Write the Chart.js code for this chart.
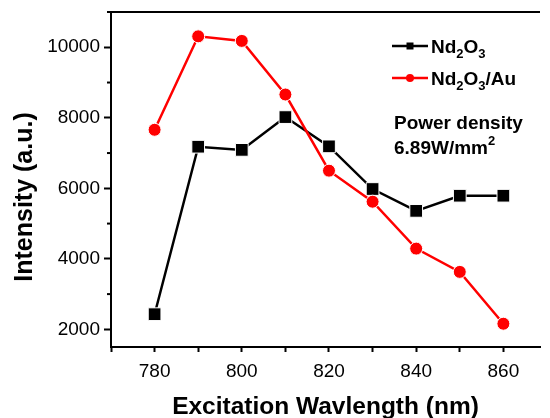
<!DOCTYPE html>
<html>
<head>
<meta charset="utf-8">
<script src="https://cdn.jsdelivr.net/npm/chart.js@4/dist/chart.umd.min.js"></script>
<style>
  html, body { margin: 0; padding: 0; background: #fff; overflow: hidden; }
  #wrap { position: relative; width: 550px; height: 418px; }
</style>
</head>
<body>
<div id="wrap"><canvas id="chart"></canvas></div>
<script>
// excitation wavelength (nm) and intensity readings (a.u.)
const wavelengths = [780, 790, 800, 810, 820, 830, 840, 850, 860];
const nd2o3 = [2430, 7180, 7090, 8020, 7190, 5980, 5360, 5790, 5790];
const nd2o3Au = [7660, 10310, 10180, 8660, 6500, 5620, 4290, 3630, 2160];

// tick positions; only the ones in the *Labels lists get a label
const xTickLabels = [780, 800, 820, 840, 860];
const yTickValues = [2000, 3000, 4000, 5000, 6000, 7000, 8000, 9000, 10000, 11000];
const yTickLabels = [2000, 4000, 6000, 8000, 10000];

const FONT = "'Liberation Sans', Arial, sans-serif";

// draws text with sub/superscript parts, e.g. Nd2O3
function drawRich(ctx, parts, x, y, size) {
  parts.forEach(p => {
    const small = p.sub || p.sup;
    ctx.font = 'bold ' + (small ? Math.round(size * 0.68) : size) + 'px ' + FONT;
    const dy = p.sub ? size * 0.3 : (p.sup ? -size * 0.45 : 0);
    ctx.fillText(p.t, x, y + dy);
    x += ctx.measureText(p.t).width;
  });
}

const extrasPlugin = {
  id: 'extras',
  afterDraw(chart) {
    const ctx = chart.ctx;
    const area = chart.chartArea;
    const yScale = chart.scales.y;
    ctx.save();
    ctx.strokeStyle = '#000';
    ctx.fillStyle = '#000';

    // top frame line
    ctx.lineWidth = 2;
    ctx.beginPath();
    ctx.moveTo(area.left - 1, area.top);
    ctx.lineTo(area.right, area.top);
    ctx.stroke();

    // short minor ticks on the y axis
    ctx.lineWidth = 2;
    yScale.ticks.forEach(t => {
      if (yTickLabels.includes(t.value)) return;
      const py = yScale.getPixelForValue(t.value);
      ctx.beginPath();
      ctx.moveTo(area.left - 4, py);
      ctx.lineTo(area.left, py);
      ctx.stroke();
    });

    // y axis title (sits a bit below the axis centre in the original)
    ctx.save();
    ctx.translate(25, 197);
    ctx.rotate(-Math.PI / 2);
    ctx.font = 'bold 25px ' + FONT;
    ctx.textAlign = 'center';
    ctx.textBaseline = 'middle';
    ctx.fillText('Intensity (a.u.)', 0, 0);
    ctx.restore();

    // legend
    const lx = 392, lw = 36;
    const rows = [
      { color: '#000', y: 46, square: true, text: [{t: 'Nd'}, {t: '2', sub: true}, {t: 'O'}, {t: '3', sub: true}] },
      { color: '#ff0000', y: 78, square: false, text: [{t: 'Nd'}, {t: '2', sub: true}, {t: 'O'}, {t: '3', sub: true}, {t: '/Au'}] }
    ];
    rows.forEach(r => {
      ctx.strokeStyle = r.color;
      ctx.fillStyle = r.color;
      ctx.lineWidth = 2.5;
      ctx.beginPath();
      ctx.moveTo(lx, r.y);
      ctx.lineTo(lx + lw, r.y);
      ctx.stroke();
      ctx.beginPath();
      if (r.square) {
        ctx.rect(lx + lw / 2 - 3.5, r.y - 3.5, 7, 7);
      } else {
        ctx.arc(lx + lw / 2, r.y, 4, 0, Math.PI * 2);
      }
      ctx.fill();
      ctx.fillStyle = '#000';
      ctx.textBaseline = 'alphabetic';
      drawRich(ctx, r.text, 431, r.y + 6.5, 19);
    });

    // power density note
    ctx.fillStyle = '#000';
    drawRich(ctx, [{t: 'Power density'}], 394, 128.5, 19);
    drawRich(ctx, [{t: '6.89W/mm'}, {t: '2', sup: true}], 394, 153.5, 19);

    ctx.restore();
  }
};

new Chart(document.getElementById('chart'), {
  type: 'line',
  data: {
    datasets: [
      {
        label: 'Nd2O3',
        data: wavelengths.map((w, i) => ({ x: w, y: nd2o3[i] })),
        borderColor: '#000',
        backgroundColor: '#000',
        borderWidth: 2.5,
        pointStyle: 'rect',
        pointRadius: 9,
        pointBorderColor: '#fff',
        pointBorderWidth: 1,
        tension: 0,
        order: 1
      },
      {
        label: 'Nd2O3/Au',
        data: wavelengths.map((w, i) => ({ x: w, y: nd2o3Au[i] })),
        borderColor: '#ff0000',
        backgroundColor: '#ff0000',
        borderWidth: 2.5,
        pointStyle: 'circle',
        pointRadius: 6.5,
        pointBorderColor: '#fff',
        pointBorderWidth: 1,
        tension: 0,
        order: 0
      }
    ]
  },
  options: {
    responsive: true,
    maintainAspectRatio: false,
    animation: false,
    layout: { padding: { top: 12, right: 0, bottom: 0, left: 0 } },
    plugins: {
      legend: { display: false },
      tooltip: { enabled: false }
    },
    scales: {
      x: {
        type: 'linear',
        min: 770,
        max: 868.4,
        afterFit: s => { s.height = 71; s.paddingLeft = 0; s.paddingRight = 0; },
        ticks: {
          stepSize: 10,
          includeBounds: false,
          autoSkip: false,
          maxRotation: 0,
          padding: 8,
          color: '#000',
          font: { size: 19, family: FONT },
          callback: v => xTickLabels.includes(v) ? String(v) : ''
        },
        grid: { drawOnChartArea: false, tickLength: 5, tickWidth: 2, tickColor: '#000' },
        border: { color: '#000', width: 2 },
        title: {
          display: true,
          text: 'Excitation Wavlength (nm)',
          color: '#000',
          font: { size: 24.5, weight: 'bold', family: FONT },
          padding: { top: 0, bottom: -4 }
        }
      },
      y: {
        min: 1500,
        max: 11000,
        afterBuildTicks: s => { s.ticks = yTickValues.map(v => ({ value: v })); },
        afterFit: s => { s.width = 111; s.paddingTop = 0; s.paddingBottom = 0; },
        ticks: {
          autoSkip: false,
          padding: 4,
          color: '#000',
          font: { size: 19, family: FONT },
          callback: v => yTickLabels.includes(v) ? String(v) : ''
        },
        grid: {
          drawOnChartArea: false,
          tickLength: 7,
          tickWidth: 2,
          tickColor: c => yTickLabels.includes(c.tick.value) ? '#000' : 'rgba(0,0,0,0)'
        },
        border: { color: '#000', width: 2 },
        title: { display: false }
      }
    }
  },
  plugins: [extrasPlugin]
});
</script>
</body>
</html>
